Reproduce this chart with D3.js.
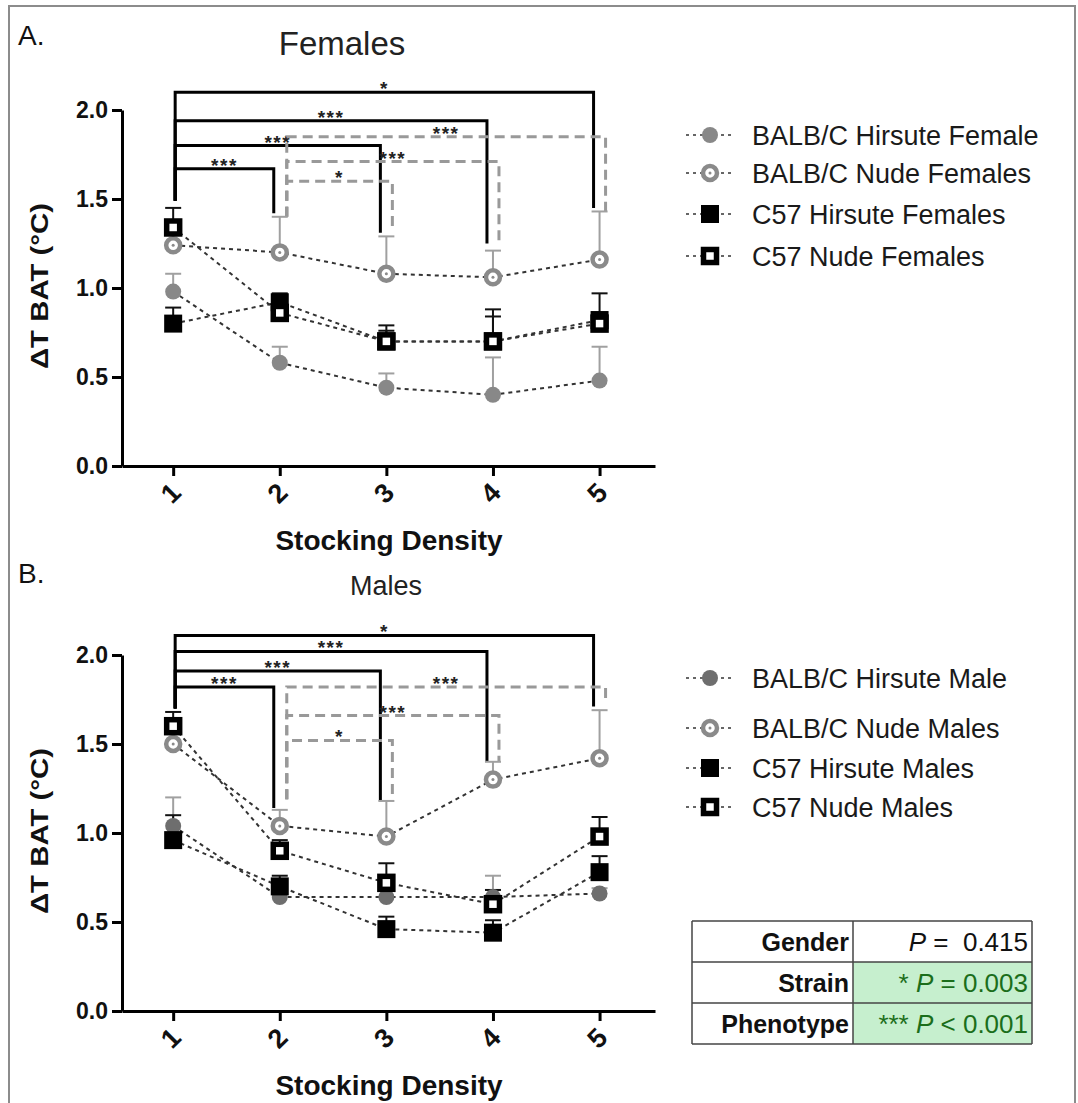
<!DOCTYPE html>
<html><head><meta charset="utf-8">
<script src="https://cdn.jsdelivr.net/npm/d3@7"></script>
<style>body{margin:0;background:#fff} svg{display:block}</style>
</head><body><svg id="c" width="1078" height="1103"></svg>
<script>
// ---------- data ----------
const densities = [1, 2, 3, 4, 5];
const yTicks = [0, 0.5, 1.0, 1.5, 2.0];

const femaleNames = ["BALB/C Hirsute Female", "BALB/C Nude Females", "C57 Hirsute Females", "C57 Nude Females"];
const maleNames = ["BALB/C Hirsute Male", "BALB/C Nude Males", "C57 Hirsute Males", "C57 Nude Males"];

const femBalbHirsute = [0.98, 0.58, 0.44, 0.40, 0.48];
const femBalbHirsuteErr = [0.10, 0.09, 0.08, 0.21, 0.19];
const femBalbNude = [1.24, 1.20, 1.08, 1.06, 1.16];
const femBalbNudeErr = [0.06, 0.20, 0.21, 0.15, 0.27];
const femC57Hirsute = [0.80, 0.92, 0.70, 0.70, 0.82];
const femC57HirsuteErr = [0.09, 0.05, 0.09, 0.18, 0.15];
const femC57Nude = [1.34, 0.86, 0.70, 0.70, 0.80];
const femC57NudeErr = [0.11, 0.08, 0.06, 0.14, 0.06];

const maleBalbHirsute = [1.04, 0.64, 0.64, 0.64, 0.66];
const maleBalbHirsuteErr = [0.16, 0.04, 0.04, 0.12, 0.03];
const maleBalbNude = [1.50, 1.04, 0.98, 1.30, 1.42];
const maleBalbNudeErr = [0.08, 0.09, 0.20, 0.10, 0.27];
const maleC57Hirsute = [0.96, 0.70, 0.46, 0.44, 0.78];
const maleC57HirsuteErr = [0.14, 0.06, 0.07, 0.07, 0.09];
const maleC57Nude = [1.60, 0.90, 0.72, 0.60, 0.98];
const maleC57NudeErr = [0.08, 0.06, 0.11, 0.08, 0.11];

// significance brackets (values in ΔT units)
const femSolidTo = [2, 3, 4, 5];
const femSolidTop = [1.67, 1.80, 1.94, 2.10];
const femSolidEnd = [1.42, 1.31, 1.25, 1.45];
const femSolidLabel = ["***", "***", "***", "*"];
const femSolidStart = 1.49;
const femDashTo = [3, 4, 5];
const femDashTop = [1.60, 1.71, 1.85];
const femDashEnd = [1.34, 1.26, 1.43];
const femDashLabel = ["*", "***", "***"];
const femDashStart = 1.40;

const maleSolidTo = [2, 3, 4, 5];
const maleSolidTop = [1.82, 1.91, 2.02, 2.11];
const maleSolidEnd = [1.14, 1.18, 1.40, 1.71];
const maleSolidLabel = ["***", "***", "***", "*"];
const maleSolidStart = 1.70;
const maleDashTo = [3, 4, 5];
const maleDashTop = [1.52, 1.66, 1.82];
const maleDashEnd = [1.18, 1.40, 1.74];
const maleDashLabel = ["*", "***", "***"];
const maleDashStart = 1.19;

const tableLabels = ["Gender", "Strain", "Phenotype"];
const tableStars = ["", "*", "***"];
const tableOps = ["=", "=", "<"];
const tableValues = ["0.415", "0.003", "0.001"];
const tableSignificant = [false, true, true];

// ---------- drawing ----------
const svg = d3.select("#c");
const FONT = "'Liberation Sans', Arial, sans-serif";

svg.append("rect").attr("x", 9).attr("y", 6).attr("width", 1066).attr("height", 1110)
  .attr("fill", "none").attr("stroke", "#8c8c8c").attr("stroke-width", 2);

const styles = [
  { shape: "dot", color: "#888", err: "#a0a0a0" },
  { shape: "ring", color: "#8a8a8a", err: "#a0a0a0" },
  { shape: "square", color: "#000", err: "#111" },
  { shape: "squareOpen", color: "#000", err: "#111" }
];

function drawMarker(g, shape, color, cx, cy) {
  if (shape === "dot") {
    g.append("circle").attr("cx", cx).attr("cy", cy).attr("r", 8).attr("fill", color);
  } else if (shape === "ring") {
    g.append("circle").attr("cx", cx).attr("cy", cy).attr("r", 7).attr("fill", "#fff")
      .attr("stroke", color).attr("stroke-width", 4.5);
    g.append("circle").attr("cx", cx).attr("cy", cy).attr("r", 1.5).attr("fill", color);
  } else if (shape === "square") {
    g.append("rect").attr("x", cx - 9).attr("y", cy - 9).attr("width", 18).attr("height", 18).attr("fill", color);
  } else {
    g.append("rect").attr("x", cx - 6.5).attr("y", cy - 6.5).attr("width", 13).attr("height", 13)
      .attr("fill", "#fff").attr("stroke", color).attr("stroke-width", 5.5);
  }
}

function panel(cfg) {
  const g = svg.append("g");
  const x = d3.scaleLinear().domain([0.52, 5.52]).range([122, 655]);
  const y = d3.scaleLinear().domain([0, 2]).range([cfg.y0, cfg.y0 - 356]);

  // letter and title
  g.append("text").attr("x", 18).attr("y", cfg.letterY).text(cfg.letter)
    .attr("font-family", FONT).attr("font-size", 28).attr("fill", "#111");
  g.append("text").attr("x", cfg.titleX).attr("y", cfg.titleY).text(cfg.title)
    .attr("text-anchor", "middle").attr("font-family", FONT).attr("font-size", cfg.titleSize).attr("fill", "#222");

  // axes
  const ya = g.append("g").attr("transform", "translate(122,0)")
    .call(d3.axisLeft(y).tickValues(yTicks).tickFormat(d3.format(".1f")).tickSize(10).tickSizeOuter(0).tickPadding(4));
  const xa = g.append("g").attr("transform", `translate(0,${cfg.y0})`)
    .call(d3.axisBottom(x).tickValues(densities).tickFormat(d3.format("d")).tickSize(10).tickSizeOuter(0));
  [ya, xa].forEach(a => {
    a.select(".domain").attr("stroke", "#000").attr("stroke-width", 3);
    a.selectAll(".tick line").attr("stroke", "#000").attr("stroke-width", 3);
    a.selectAll("text").attr("font-family", FONT).attr("font-weight", "bold").attr("fill", "#111");
  });
  ya.selectAll("text").attr("font-size", 23);
  xa.selectAll("text").attr("font-size", 27).attr("y", 0).attr("dy", "0.35em")
    .attr("transform", "translate(-3,27) rotate(-45)").attr("text-anchor", "middle");

  // axis labels
  g.append("text").attr("transform", `translate(48,${cfg.y0 - 180}) rotate(-90)`)
    .attr("text-anchor", "middle").attr("font-family", FONT).attr("font-weight", "bold")
    .attr("font-size", 23).attr("fill", "#111")
    .attr("textLength", 166).attr("lengthAdjust", "spacingAndGlyphs").text("ΔT BAT (°C)");
  g.append("text").attr("x", 389).attr("y", cfg.y0 + 84).attr("text-anchor", "middle")
    .attr("font-family", FONT).attr("font-weight", "bold").attr("font-size", 28).attr("fill", "#111")
    .text("Stocking Density");

  // brackets
  const bg = g.append("g");
  cfg.solidTo.forEach((to, i) => {
    bg.append("path")
      .attr("d", `M${x(1) + 2},${y(cfg.solidStart)}V${y(cfg.solidTop[i])}H${x(to) - 6}V${y(cfg.solidEnd[i])}`)
      .attr("fill", "none").attr("stroke", "#000").attr("stroke-width", 3);
    bg.append("text").attr("x", (x(1) + 2 + x(to) - 6) / 2).attr("y", y(cfg.solidTop[i]) + 3)
      .attr("text-anchor", "middle").attr("font-family", FONT).attr("font-size", 19).attr("font-weight", "bold")
      .attr("letter-spacing", 1.5).attr("fill", "#222").text(cfg.solidLabel[i]);
  });
  cfg.dashTo.forEach((to, i) => {
    bg.append("path")
      .attr("d", `M${x(2) + 7},${y(cfg.dashStart)}V${y(cfg.dashTop[i])}H${x(to) + 6}V${y(cfg.dashEnd[i])}`)
      .attr("fill", "none").attr("stroke", "#999").attr("stroke-width", 3).attr("stroke-dasharray", "10,6");
    bg.append("text").attr("x", (x(2) + 7 + x(to) + 6) / 2).attr("y", y(cfg.dashTop[i]) + 3)
      .attr("text-anchor", "middle").attr("font-family", FONT).attr("font-size", 19).attr("font-weight", "bold")
      .attr("letter-spacing", 1.5).attr("fill", "#222").text(cfg.dashLabel[i]);
  });

  // series lines
  const line = d3.line().x((d, i) => x(densities[i])).y(d => y(d));
  cfg.series.forEach(s => {
    g.append("path").attr("d", line(s)).attr("fill", "none").attr("stroke", "#333")
      .attr("stroke-width", 2).attr("stroke-dasharray", "4,4");
  });
  // error bars
  cfg.series.forEach((s, k) => {
    s.forEach((v, i) => {
      const cx = x(densities[i]), top = y(v + cfg.errs[k][i]);
      g.append("line").attr("x1", cx).attr("x2", cx).attr("y1", y(v)).attr("y2", top)
        .attr("stroke", styles[k].err).attr("stroke-width", 2);
      g.append("line").attr("x1", cx - 8).attr("x2", cx + 8).attr("y1", top).attr("y2", top)
        .attr("stroke", styles[k].err).attr("stroke-width", 2);
    });
  });
  // markers
  cfg.series.forEach((s, k) => {
    s.forEach((v, i) => drawMarker(g, styles[k].shape, k === 0 ? cfg.dotColor : styles[k].color, x(densities[i]), y(v)));
  });

  // legend
  cfg.names.forEach((nm, k) => {
    const ly = cfg.legendY[k];
    g.append("line").attr("x1", 686).attr("x2", 734).attr("y1", ly).attr("y2", ly)
      .attr("stroke", "#666").attr("stroke-width", 2).attr("stroke-dasharray", "3,4");
    drawMarker(g, styles[k].shape, k === 0 ? cfg.dotColor : styles[k].color, 710, ly);
    g.append("text").attr("x", 752).attr("y", ly + 10).text(nm)
      .attr("font-family", FONT).attr("font-size", 27).attr("fill", "#1a1a1a");
  });
}

panel({
  y0: 466, letter: "A.", letterY: 45, title: "Females", titleX: 342, titleY: 55, titleSize: 33,
  series: [femBalbHirsute, femBalbNude, femC57Hirsute, femC57Nude],
  errs: [femBalbHirsuteErr, femBalbNudeErr, femC57HirsuteErr, femC57NudeErr],
  names: femaleNames, legendY: [135, 173, 214, 256], dotColor: "#888",
  solidTo: femSolidTo, solidTop: femSolidTop, solidEnd: femSolidEnd, solidLabel: femSolidLabel, solidStart: femSolidStart,
  dashTo: femDashTo, dashTop: femDashTop, dashEnd: femDashEnd, dashLabel: femDashLabel, dashStart: femDashStart
});
panel({
  y0: 1011, letter: "B.", letterY: 583, title: "Males", titleX: 386, titleY: 595, titleSize: 27,
  series: [maleBalbHirsute, maleBalbNude, maleC57Hirsute, maleC57Nude],
  errs: [maleBalbHirsuteErr, maleBalbNudeErr, maleC57HirsuteErr, maleC57NudeErr],
  names: maleNames, legendY: [678, 728, 768, 807], dotColor: "#6e6e6e",
  solidTo: maleSolidTo, solidTop: maleSolidTop, solidEnd: maleSolidEnd, solidLabel: maleSolidLabel, solidStart: maleSolidStart,
  dashTo: maleDashTo, dashTop: maleDashTop, dashEnd: maleDashEnd, dashLabel: maleDashLabel, dashStart: maleDashStart
});

// stats table
const tg = svg.append("g");
const tx0 = 692, tx1 = 853, tx2 = 1032, ty0 = 921, rowH = 41;
tableLabels.forEach((lab, i) => {
  const ry = ty0 + i * rowH;
  tg.append("rect").attr("x", tx1).attr("y", ry).attr("width", tx2 - tx1).attr("height", rowH)
    .attr("fill", tableSignificant[i] ? "#c6efce" : "#fff");
  tg.append("text").attr("x", tx1 - 4).attr("y", ry + 30).attr("text-anchor", "end")
    .attr("font-family", FONT).attr("font-weight", "bold").attr("font-size", 25).attr("fill", "#111").text(lab);
  const t = tg.append("text").attr("x", tx2 - 4).attr("y", ry + 30).attr("text-anchor", "end")
    .attr("font-family", FONT).attr("font-size", 26).attr("fill", tableSignificant[i] ? "#1b6e1b" : "#111")
    .attr("xml:space", "preserve");
  if (tableStars[i]) t.append("tspan").text(tableStars[i] + " ");
  t.append("tspan").attr("font-style", "italic").text("P");
  t.append("tspan").text(" " + tableOps[i] + (tableSignificant[i] ? " " : "  ") + tableValues[i]);
});
[tx0, tx1, tx2].forEach(xx => tg.append("line").attr("x1", xx).attr("x2", xx).attr("y1", ty0).attr("y2", ty0 + 3 * rowH)
  .attr("stroke", "#444").attr("stroke-width", 1.5));
[0, 1, 2, 3].forEach(i => tg.append("line").attr("x1", tx0).attr("x2", tx2).attr("y1", ty0 + i * rowH).attr("y2", ty0 + i * rowH)
  .attr("stroke", "#444").attr("stroke-width", 1.5));
</script></body></html>
